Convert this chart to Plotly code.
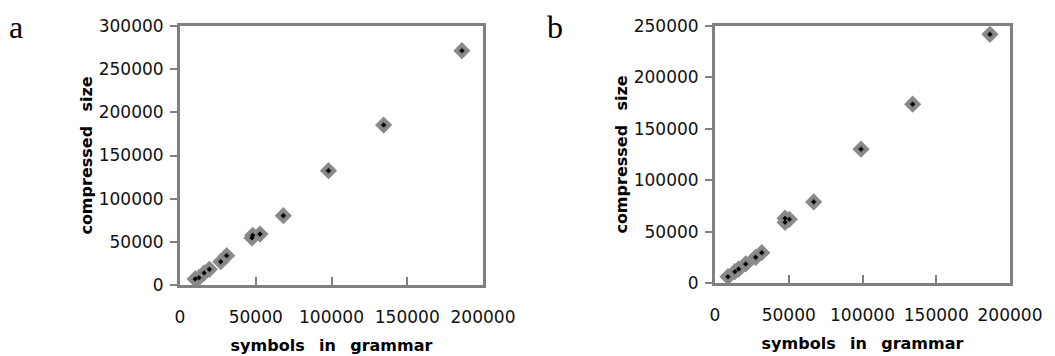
"""Compressed size vs. grammar symbols, two scatter panels."""

import plotly.graph_objects as go

# panel a
a_symbols = [10000, 12500, 16000, 19400, 26900, 30800, 47500, 48000, 52800,
             68200, 98000, 134400, 186100]
a_size = [7000, 8500, 14000, 18200, 27000, 34000, 54500, 57500, 59000,
          80300, 132400, 185300, 271400]

# panel b
b_symbols = [8800, 13500, 16000, 20800, 27600, 31700, 47500, 47500, 50400,
             66900, 99000, 134000, 186400]
b_size = [6100, 11000, 13500, 18500, 25000, 29500, 59000, 63000, 62000,
          78900, 130200, 174000, 241900]

a_yticks = [0, 50000, 100000, 150000, 200000, 250000, 300000]
b_yticks = [0, 50000, 100000, 150000, 200000, 250000]
x_ticks = [0, 50000, 100000, 150000, 200000]

GRAY = "#808080"
TICK_FONT = dict(family="DejaVu Sans", size=17, color="#111111")
TITLE_FONT = dict(family="DejaVu Sans", size=16, color="#000000")
GAP = "\u00a0\u00a0\u2009"

# page body has an 8px margin, so the figure is sized to fit inside the window
W, H = 1047, 348

fig = go.Figure()

for xs, ys, xa, ya in [(a_symbols, a_size, "x", "y"), (b_symbols, b_size, "x2", "y2")]:
    fig.add_trace(
        go.Scatter(
            x=xs, y=ys, mode="markers", xaxis=xa, yaxis=ya,
            marker=dict(symbol="diamond", size=10, color="#7f7f7f",
                        line=dict(width=3, color="#8a8a8a")),
            hoverinfo="skip",
        )
    )
    fig.add_trace(
        go.Scatter(
            x=xs, y=ys, mode="markers", xaxis=xa, yaxis=ya,
            marker=dict(symbol="diamond", size=4, color="#000000"),
            hoverinfo="skip",
        )
    )


def xaxis_style(domain, anchor):
    return dict(
        domain=domain, anchor=anchor, range=[0, 200000], automargin=False,
        tickvals=x_ticks, ticktext=[str(v) for v in x_ticks],
        ticks="inside", ticklen=8, tickwidth=2, tickcolor=GRAY,
        showline=True, linecolor=GRAY, linewidth=3, mirror=True,
        showgrid=False, zeroline=False, tickfont=TICK_FONT,
        ticklabelstandoff=15,
        title=dict(text=f"<b>symbols{GAP}in{GAP}grammar</b>",
                   font=TITLE_FONT, standoff=14),
    )


def yaxis_style(domain, anchor, top, ticks):
    return dict(
        domain=domain, anchor=anchor, range=[0, top], automargin=False,
        tickvals=ticks, ticktext=[str(v) for v in ticks],
        ticks="outside", ticklen=7, tickwidth=2, tickcolor=GRAY,
        showline=True, linecolor=GRAY, linewidth=3, mirror=True,
        showgrid=False, zeroline=False, tickfont=TICK_FONT,
        ticklabelstandoff=3,
        title=dict(text=f"<b>compressed{GAP}size</b>",
                   font=TITLE_FONT, standoff=3),
    )


fig.update_layout(
    width=W, height=H,
    margin=dict(l=0, r=0, t=0, b=0),
    paper_bgcolor="white", plot_bgcolor="white",
    showlegend=False,
    xaxis=xaxis_style([172 / W, 475 / W], "y"),
    yaxis=yaxis_style([1 - 277 / H, 1 - 18 / H], "x", 300000, a_yticks),
    xaxis2=xaxis_style([707 / W, 1002 / W], "y2"),
    yaxis2=yaxis_style([1 - 275 / H, 1 - 18 / H], "x2", 250000, b_yticks),
)

for label, xpos in [("a", 0.0), ("b", 0.5134)]:
    fig.add_annotation(
        text=label, x=xpos, y=1.0, xref="paper", yref="paper",
        xanchor="left", yanchor="top", showarrow=False, borderpad=0,
        font=dict(family="Liberation Serif", size=32, color="#000000"),
    )

fig.write_html("out.html")
